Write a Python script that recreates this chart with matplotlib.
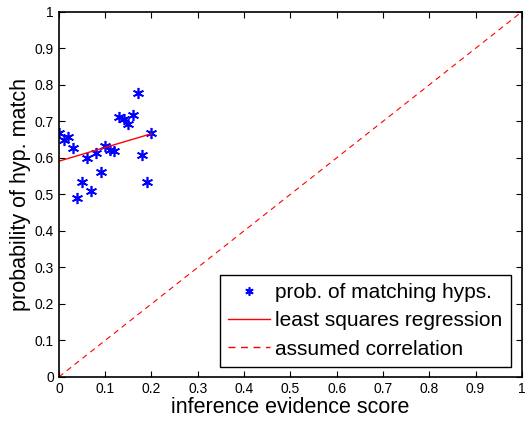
import numpy as np
import matplotlib
matplotlib.use('Agg')
import matplotlib.pyplot as plt

plt.rcParams['font.family'] = ['Liberation Sans', 'DejaVu Sans']

# evidence score vs probability of matching hyps
scores = [0.0, 0.01, 0.02, 0.03, 0.04, 0.05, 0.06, 0.07, 0.08, 0.09, 0.10,
          0.11, 0.12, 0.13, 0.14, 0.15, 0.16, 0.17, 0.18, 0.19, 0.20]
probs = [0.668, 0.649, 0.657, 0.626, 0.490, 0.535, 0.599, 0.510, 0.613, 0.561, 0.633,
         0.622, 0.620, 0.711, 0.707, 0.692, 0.717, 0.779, 0.609, 0.533, 0.668]
diag = [0, 1]
ticks = [0, 0.1, 0.2, 0.3, 0.4, 0.5, 0.6, 0.7, 0.8, 0.9, 1]
tick_labels = ['0', '0.1', '0.2', '0.3', '0.4', '0.5', '0.6', '0.7', '0.8', '0.9', '1']

slope, intercept = np.polyfit(scores, probs, 1)
fit_x = np.array([scores[0], scores[-1]])
fit_y = slope * fit_x + intercept

fig = plt.figure(figsize=(5.26, 4.23), dpi=100)
ax = fig.add_axes([0.112, 0.109, 0.880, 0.863])

# matlab style asterisk
star = (6, 2, 0)
ax.plot(scores, probs, linestyle='none', marker=star, color='blue', markersize=8,
        markeredgewidth=1.2, label='prob. of matching hyps.')
ax.plot(fit_x, fit_y, '-', color='red', linewidth=1, label='least squares regression')
ax.plot(diag, diag, '--', color='red', linewidth=0.8, dashes=(5, 4), label='assumed correlation')

ax.set_xlim(0, 1)
ax.set_ylim(0, 1)
ax.set_xticks(ticks)
ax.set_xticklabels(tick_labels)
ax.set_yticks(ticks)
ax.set_yticklabels(tick_labels)
ax.tick_params(direction='in', top=True, right=True, labelsize=10, length=4, width=0.8)
for s in ax.spines.values():
    s.set_linewidth(1.2)

ax.set_xlabel('inference evidence score', fontsize=15.5, labelpad=1)
ax.set_ylabel('probability of hyp. match', fontsize=15.5, labelpad=3)

leg = ax.legend(loc='lower right', fontsize=15, frameon=True, fancybox=False,
                edgecolor='black', framealpha=1, borderpad=0.4, labelspacing=0.45,
                handlelength=2.0, handletextpad=0.25, borderaxespad=0,
                bbox_to_anchor=(0.976, 0.027))
leg.get_frame().set_linewidth(1.0)
leg.legend_handles[0].set_markersize(6)
leg.legend_handles[2].set_linewidth(1.0)

fig.savefig('out.png', dpi=100)
